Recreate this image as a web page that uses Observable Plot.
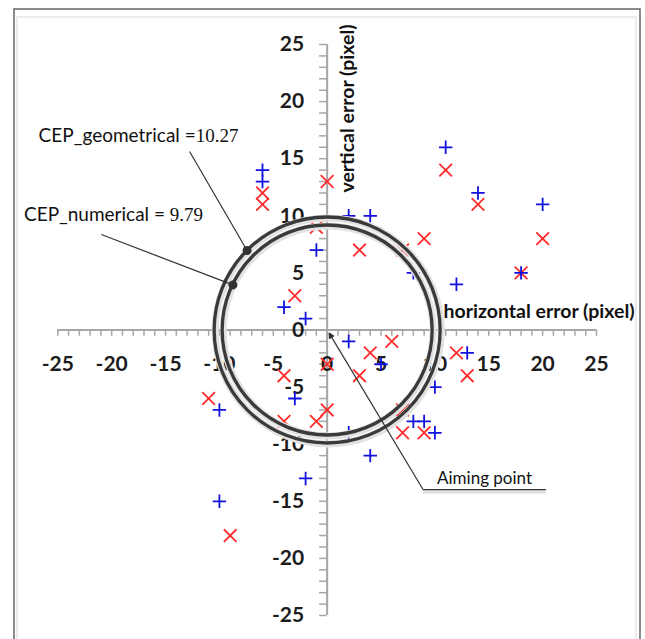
<!DOCTYPE html>
<html><head><meta charset="utf-8">
<script src="https://cdn.jsdelivr.net/npm/d3@7"></script>
<script src="https://cdn.jsdelivr.net/npm/@observablehq/plot@0.6"></script>
<style>body{margin:0;background:#fff} svg{display:block}</style>
</head><body><div id="chart"></div>
<script>
// Series 1: blue "+" markers (pixel errors)
const blueX = [11, 14, 20, 2, 4, -6, -6, -1, 8, 12, 18, -4, -2, 2, 5, 13, 10, -3, -10, 8, 9, 10, 2, 4, -2, -10];
const blueY = [16, 12, 11, 10, 10, 14, 13, 7, 5, 4, 5, 2, 1, -1, -3, -2, -5, -6, -7, -8, -8, -9, -9, -11, -13, -15];
// Series 2: red "x" markers
const redX = [11, 14, 20, -6, -6, 0, -1, 3, 7, 9, 18, -3, 6, 4, 12, 13, 3, 0, -4, -11, 0, -4, -1, 7, 7, 9, -9];
const redY = [14, 11, 8, 12, 11, 13, 9, 7, 7, 8, 5, 3, -1, -2, -2, -4, -4, -3, -4, -6, -7, -8, -8, -7, -9, -9, -18];
// Tick labels
const xTickLabels = [-25, -20, -15, -10, -5, 0, 5, 10, 15, 20, 25];
const yTickLabels = [-25, -20, -15, -10, -5, 0, 5, 10, 15, 20, 25];
// CEP circles
const cepNames = ["CEP_geometrical", "CEP_numerical"];
const cepValues = [10.27, 9.79];
// Titles
const xTitle = "horizontal error (pixel)";
const yTitle = "vertical error (pixel)";
const aimLabel = "Aiming point";

const blue = blueX.map((x, i) => ({x, y: blueY[i]}));
const red = redX.map((x, i) => ({x, y: redY[i]}));
const cep = cepNames.map((name, i) => ({name, value: cepValues[i]}));
const minor = d3.range(-25, 26);

// annotation anchors (data units)
const cepLabels = [
  {label: "CEP_geometrical =", num: "10.27", x: -12.2, y: 17.0, lx1: -12.77, ly1: 15.63, lx2: -7.43, ly2: 6.96},
  {label: "CEP_numerical = ", num: "9.79", x: -14.6, y: 10.1, lx1: -20.96, ly1: 8.36, lx2: -8.75, ly2: 3.95}
];
const aim = {x1: 8.9, y1: -13.97, x2: 0.3, y2: -0.45, ux2: 20.3, tx: 10.2, ty: -13.0};

const font = "Lato, 'Open Sans', sans-serif";
const chart = Plot.plot({
  width: 645, height: 639,
  marginLeft: 57.3, marginRight: 49, marginTop: 44, marginBottom: 24,
  x: {domain: [-25, 25], axis: null},
  y: {domain: [-25, 25], axis: null},
  r: {type: "linear", domain: [9.79, 10.27], range: [105, 113]},
  style: {fontFamily: font, background: "transparent"},
  marks: [
    // axes through origin
    Plot.ruleY([0], {x1: -25, x2: 25, stroke: "#a6a6a6", strokeWidth: 2}),
    Plot.ruleX([0], {y1: -25, y2: 25, stroke: "#a6a6a6", strokeWidth: 2}),
    Plot.ruleX(minor, {x: d => d, y1: 0, y2: -0.55, stroke: "#a6a6a6", strokeWidth: 1.5}),
    Plot.ruleY(minor, {y: d => d, x1: -0.7, x2: 0, stroke: "#a6a6a6", strokeWidth: 1.5}),
    Plot.text(xTickLabels, {x: d => d, y: d => 0, dy: 34, text: d => String(d), fontSize: 21, fontWeight: "bold", fill: "#1c1c1c"}),
    Plot.text(yTickLabels, {x: d => 0, y: d => d, dx: -23, text: d => String(d), textAnchor: "end", fontSize: 21, fontWeight: "bold", fill: "#1c1c1c"}),
    // markers
    Plot.dot(red, {x: "x", y: "y", symbol: "times", r: 5.8, stroke: "#ff2a2a", strokeWidth: 1.8}),
    Plot.dot(blue, {x: "x", y: "y", symbol: "plus", r: 4.4, stroke: "#1010e0", strokeWidth: 1.8}),
    // CEP circles (light halo + dark ring)
    Plot.dot(cep, {x: d => 0, y: d => 0, r: "value", fill: "none", stroke: "#e2e2e2", strokeWidth: 7, dx: 1, dy: 1}),
    Plot.dot(cep, {x: d => 0, y: d => 0, r: "value", fill: "none", stroke: "#3a3a3a", strokeWidth: 3.3}),
    // callouts
    Plot.link(cepLabels, {x1: "lx1", y1: "ly1", x2: "lx2", y2: "ly2", stroke: "#333", strokeWidth: 1.2}),
    Plot.dot(cepLabels, {x: "lx2", y: "ly2", r: 4.5, fill: "#333"}),
    Plot.text(cepLabels, {x: "x", y: "y", text: "label", textAnchor: "end", fontSize: 19, fill: "#111"}),
    Plot.text(cepLabels, {x: "x", y: "y", text: "num", textAnchor: "start", fontSize: 19, fill: "#111", fontFamily: "'Liberation Serif', serif"}),
    // aiming point
    Plot.link([aim], {x1: "x1", y1: "y1", x2: "x2", y2: "y2", stroke: "#333", strokeWidth: 1.2, markerEnd: "arrow"}),
    Plot.link([aim], {x1: "x1", y1: "y1", x2: "ux2", y2: "y1", stroke: "#dedede", strokeWidth: 3, dy: 2.5}),
    Plot.link([aim], {x1: "x1", y1: "y1", x2: "ux2", y2: "y1", stroke: "#333", strokeWidth: 1.2}),
    Plot.text([aimLabel], {x: d => aim.tx, y: d => aim.ty, text: d => d, textAnchor: "start", fontSize: 17, fill: "#111"}),
    // axis titles
    Plot.text([xTitle], {x: d => 10.8, y: d => 1.62, text: d => d, textAnchor: "start", fontSize: 19.5, fontWeight: "bold", fill: "#111"}),
    Plot.text([yTitle], {x: d => 1.95, y: d => 19.4, text: d => d, rotate: -90, fontSize: 19.5, fontWeight: "bold", fill: "#111"})
  ]
});

// filled arrowhead and outer frame
const svg = d3.select(chart);
svg.selectAll("marker").attr("fill", "#333").select("path").attr("d", "M-3,-3L3,0L-3,3Z");
svg.insert("rect", ":first-child").attr("x", 17).attr("y", 17).attr("width", 619).attr("height", 640)
  .attr("fill", "none").attr("stroke", "#d8d8d8").attr("stroke-width", 1);
svg.insert("rect", ":first-child").attr("x", 14).attr("y", 9).attr("width", 626).attr("height", 650)
  .attr("fill", "none").attr("stroke", "#666").attr("stroke-width", 1.5);
document.getElementById("chart").appendChild(chart);
</script>
</body></html>
